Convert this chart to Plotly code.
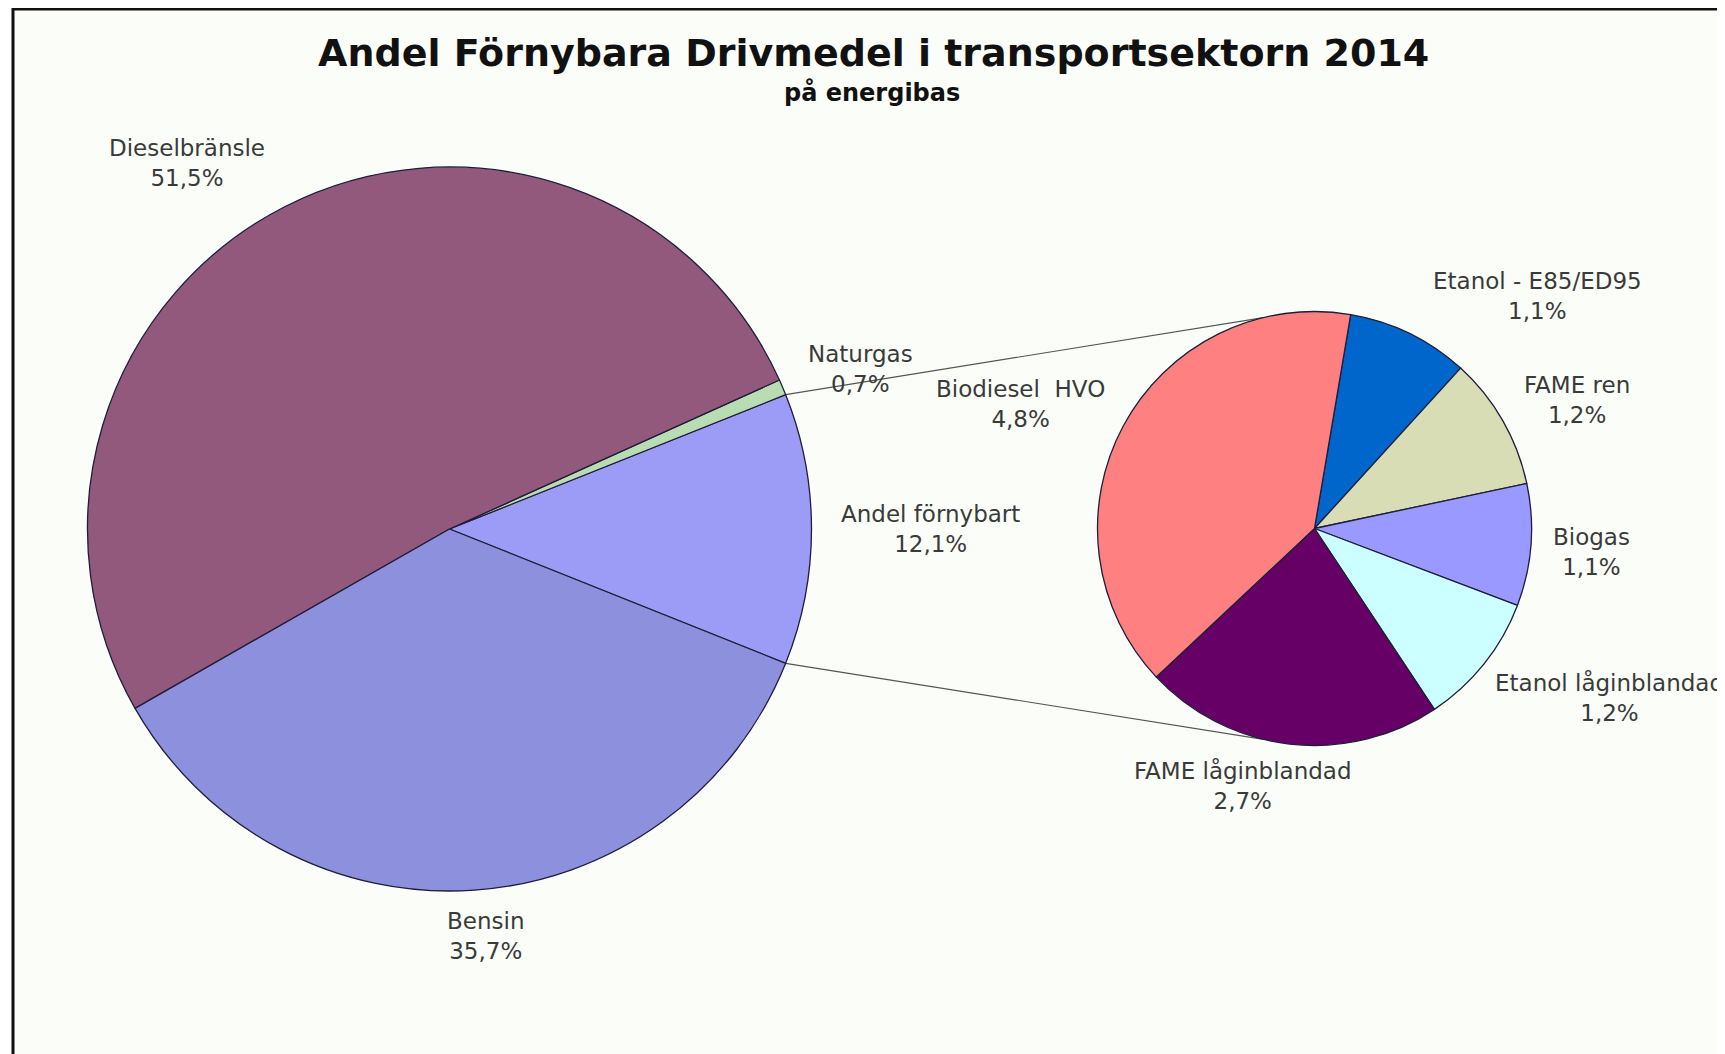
import math
import plotly.graph_objects as go

# ---- data ----
main_labels = ["Andel förnybart", "Naturgas", "Dieselbränsle", "Bensin"]
main_values = [12.1, 0.7, 51.5, 35.7]
main_colors = ["#9C9CF7", "#B9DDB2", "#93597C", "#8D90DC"]

sub_labels = ["Etanol - E85/ED95", "FAME ren", "Biogas", "Etanol låginblandad",
              "FAME låginblandad", "Biodiesel  HVO"]
sub_values = [1.1, 1.2, 1.1, 1.2, 2.7, 4.8]
sub_colors = ["#0066CC", "#D9DDB6", "#9999FF", "#CCFFFF", "#660066", "#FF8080"]

title_text = "Andel Förnybara Drivmedel i transportsektorn 2014"
subtitle_text = "på energibas"

# page offset (default html body margin) -> figure sized to fill the window exactly
OFF = 8
W, H = 1725 - OFF, 1054 - OFF

# pie placement (window pixels): centre x, centre y (from top), radius
big_cx, big_cy, big_r = 449.5, 529.0, 362.0
small_cx, small_cy, small_r = 1314.5, 528.5, 217.0
small_rotation = 9.6
connector_angle_small = 103.6  # degrees on small pie where connector meets


def px(x):
    return (x - OFF) / W


def py(y):
    return 1 - (y - OFF) / H


def dom(cx, cy, r):
    return dict(x=[px(cx - r), px(cx + r)], y=[py(cy + r), py(cy - r)])


total = sum(main_values)
split_share = main_values[0] / total
half_angle = 0.5 * split_share * 360.0

fig = go.Figure()
fig.add_trace(go.Pie(
    labels=main_labels, values=main_values, sort=False,
    direction="counterclockwise", rotation=90 - half_angle,
    marker=dict(colors=main_colors, line=dict(color="#1E1E3C", width=1.3)),
    textinfo="none", hoverinfo="label+value", showlegend=False,
    domain=dom(big_cx, big_cy, big_r),
))
fig.add_trace(go.Pie(
    labels=sub_labels, values=sub_values, sort=False,
    direction="clockwise", rotation=small_rotation,
    marker=dict(colors=sub_colors, line=dict(color="#1E1E3C", width=1.3)),
    textinfo="none", hoverinfo="label+value", showlegend=False,
    domain=dom(small_cx, small_cy, small_r),
))

# label positions (window pixels, centre of text block)
main_label_pos = [(930, 529), (860, 369), (187, 163), (485, 936)]
sub_label_pos = [(1537, 296), (1577, 400), (1591, 552), (1609, 697),
                 (1243, 785), (1020, 404)]


def fmt(v):
    return f"{v:.1f}%".replace(".", ",")


annotations = []
for lab, val, (lx, ly) in list(zip(main_labels, main_values, main_label_pos)) + \
        list(zip(sub_labels, sub_values, sub_label_pos)):
    annotations.append(dict(
        x=px(lx), y=py(ly), xref="paper", yref="paper",
        text=f"{lab}<br>{fmt(val)}", showarrow=False,
        xanchor="center", yanchor="middle", align="center",
        font=dict(family="DejaVu Sans", size=23, color="#3A3A3A"),
    ))

annotations.append(dict(
    x=px(873), y=py(53), xref="paper", yref="paper", text=f"<b>{title_text}</b>",
    showarrow=False, xanchor="center", yanchor="middle",
    font=dict(family="DejaVu Sans", size=38, color="#111111")))
annotations.append(dict(
    x=px(872), y=py(93), xref="paper", yref="paper", text=f"<b>{subtitle_text}</b>",
    showarrow=False, xanchor="center", yanchor="middle",
    font=dict(family="DejaVu Sans", size=24, color="#111111")))

shapes = [dict(type="rect", xref="paper", yref="paper",
               x0=px(13), x1=1.02, y0=-0.02, y1=py(9),
               line=dict(color="#111111", width=3), fillcolor="#FBFEF8", layer="below")]

# connector lines derived from the split slice angles
for sgn in (1, -1):
    a1 = math.radians(sgn * half_angle)
    a2 = math.radians(sgn * connector_angle_small)
    x1 = big_cx + big_r * math.cos(a1)
    y1 = big_cy - big_r * math.sin(a1)
    x2 = small_cx + small_r * math.cos(a2)
    y2 = small_cy - small_r * math.sin(a2)
    shapes.append(dict(type="line", xref="paper", yref="paper",
                       x0=px(x1), y0=py(y1), x1=px(x2), y1=py(y2),
                       line=dict(color="#555555", width=1.2), layer="below"))

fig.update_layout(
    width=W, height=H,
    margin=dict(l=0, r=0, t=0, b=0),
    paper_bgcolor="#FFFFFF",
    annotations=annotations, shapes=shapes,
)

fig.write_html("out.html")
